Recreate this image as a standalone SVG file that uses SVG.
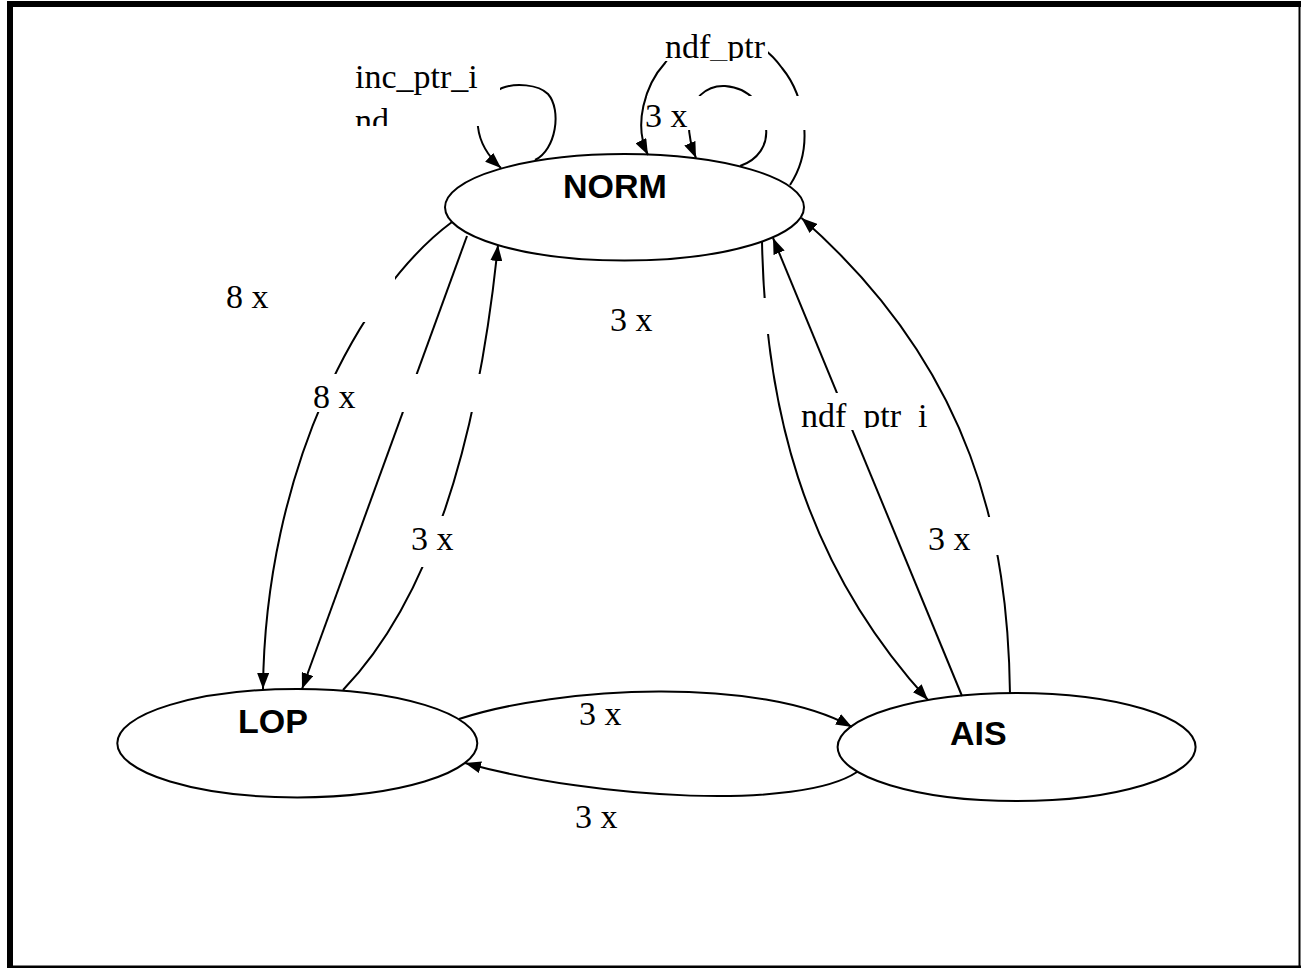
<svg xmlns="http://www.w3.org/2000/svg" width="1301" height="968" viewBox="0 0 1301 968">
<defs>
<style>
.node ellipse{fill:#fff;stroke:#000;stroke-width:2}
.node text{font-family:"Liberation Sans",Arial,sans-serif;font-weight:bold;font-size:34px;fill:#000}
.edge{fill:none;stroke:#000;stroke-width:2}
.arrow{marker-end:url(#ah)}
.lbl rect{fill:#fff;stroke:none}
.lbl text{font-family:"Liberation Serif","Times New Roman",serif;font-size:34px;fill:#000}
.frame{fill:#000}
</style>
<marker id="ah" markerUnits="userSpaceOnUse" viewBox="0 0 16 12" refX="16" refY="6" markerWidth="16" markerHeight="12" orient="auto"><path d="M0,0L16,6L0,12z" fill="#000"/></marker>
<clipPath id="c-inc"><rect x="350" y="40" width="150" height="86"/></clipPath>
<clipPath id="c-ndf"><rect x="660" y="20" width="110" height="41"/></clipPath>
<clipPath id="c-ndfi"><rect x="795" y="385" width="145" height="43"/></clipPath>
</defs>
<rect width="1301" height="968" fill="#fff"/>
<g id="frame">
<rect class="frame" x="7" y="1" width="1294" height="6"/>
<rect class="frame" x="7" y="1" width="6" height="967"/>
<rect class="frame" x="1298.5" y="1" width="2" height="967"/>
<rect class="frame" x="7" y="965.5" width="1294" height="2.5"/>
</g>
<g id="node-norm" class="node"><ellipse cx="624.5" cy="207.3" rx="179.5" ry="53.3"/><text x="563" y="198">NORM</text></g>
<g id="node-lop" class="node"><ellipse cx="297.3" cy="743.2" rx="180" ry="54.2"/><text x="238" y="733">LOP</text></g>
<g id="node-ais" class="node"><ellipse cx="1016.6" cy="747" rx="179" ry="54"/><text x="950" y="745">AIS</text></g>
<g id="connectors">
<path class="edge arrow" d="M535,160 C556,150 562,110 548,94 C538,84 515,83 502,88 C488,94 476,110 478,127 C480,145 490,158 501,168"/>
<path class="edge arrow" d="M790,185 C802,167 806,145 804,125 C802,105 796,85 782,68 C768,48 745,33 716,33 C690,33 675,48 665,63 C645,85 633,125 648,155"/>
<path class="edge arrow" d="M740,166 C758,160 768,145 766,128 C764,108 752,88 725,86 C705,85 692,100 689,118 C688,132 691,146 696,158"/>
<path class="edge arrow" d="M452,222 C360,290 265,470 263,689"/>
<path class="edge arrow" d="M467,236 L302,689"/>
<path class="edge arrow" d="M343,690 C420,610 475,470 498,245"/>
<path class="edge arrow" d="M762,241 C765,400 800,560 928,700"/>
<path class="edge arrow" d="M962,696 L773,238"/>
<path class="edge arrow" d="M1010,694 C1008,540 975,370 801.5,218"/>
<path class="edge arrow" d="M459,719 C560,686 760,676 852,727"/>
<path class="edge arrow" d="M857,772 C800,810 600,800 465,763"/>
</g>
<g id="labels">
<g class="lbl"><rect x="350" y="50" width="150" height="76"/><g clip-path="url(#c-inc)"><text x="355" y="88">inc_ptr_i</text><text x="355" y="132">nd</text></g></g>
<g class="lbl"><rect x="662" y="20" width="106" height="41"/><g clip-path="url(#c-ndf)"><text x="665" y="58">ndf_ptr</text></g></g>
<g class="lbl"><rect x="647" y="96" width="163" height="34"/><text x="645" y="127">3 x</text></g>
<g class="lbl"><rect x="220" y="276" width="175" height="46"/><text x="226" y="308">8 x</text></g>
<g class="lbl"><rect x="600" y="298" width="176" height="36"/><text x="610" y="331">3 x</text></g>
<g class="lbl"><rect x="310" y="374" width="180" height="38"/><text x="313" y="408">8 x</text></g>
<g class="lbl"><rect x="798" y="393" width="137" height="37"/><g clip-path="url(#c-ndfi)"><text x="801" y="427">ndf_ptr_i</text></g></g>
<g class="lbl"><rect x="405" y="516" width="65" height="51"/><text x="411" y="550">3 x</text></g>
<g class="lbl"><rect x="922" y="517" width="82" height="38"/><text x="928" y="550">3 x</text></g>
<g class="lbl"><text x="579" y="725">3 x</text></g>
<g class="lbl"><text x="575" y="828">3 x</text></g>
</g>
</svg>
